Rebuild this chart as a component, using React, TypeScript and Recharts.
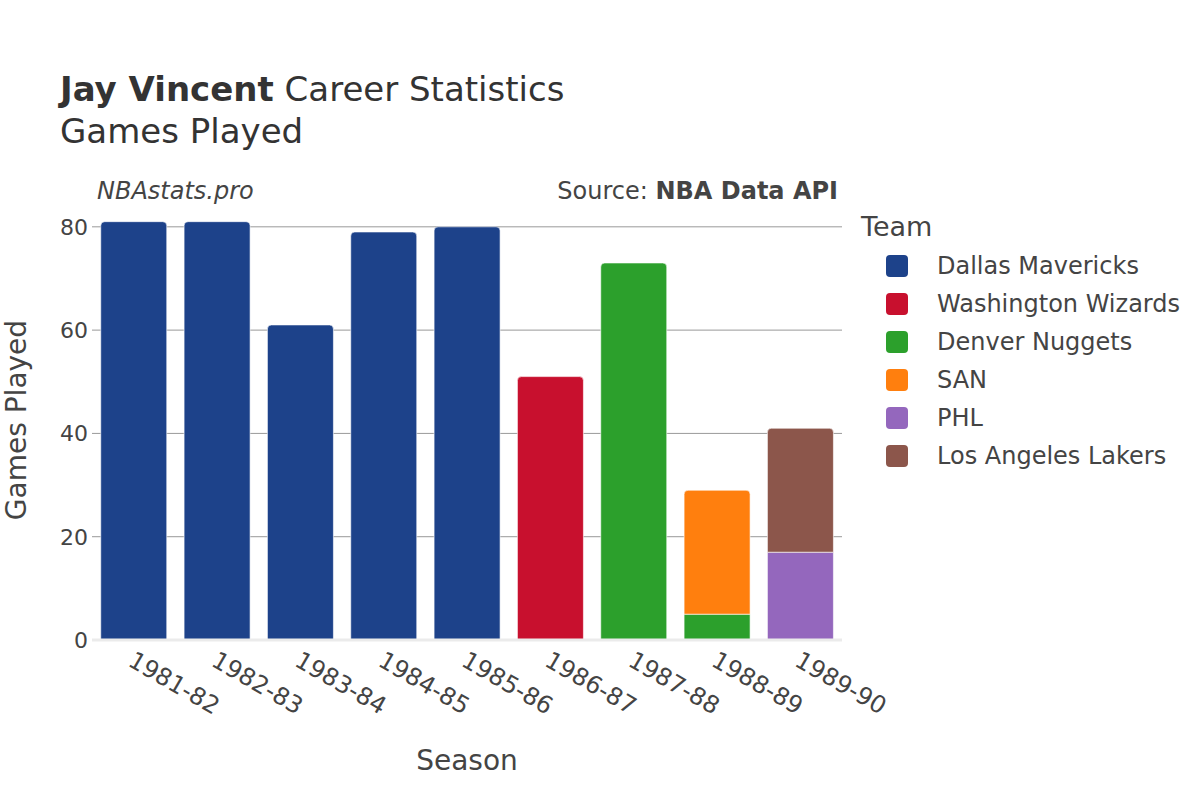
import { BarChart, Bar, XAxis, YAxis, CartesianGrid, ReferenceLine } from 'recharts';

// seasons on the x axis
const seasons = ["1981-82", "1982-83", "1983-84", "1984-85", "1985-86", "1986-87", "1987-88", "1988-89", "1989-90"];

// games played per team, one entry per season
const dallas = [81, 81, 61, 79, 80, 0, 0, 0, 0];
const washington = [0, 0, 0, 0, 0, 51, 0, 0, 0];
const denver = [0, 0, 0, 0, 0, 0, 73, 5, 0];
const san = [0, 0, 0, 0, 0, 0, 0, 24, 0];
const phl = [0, 0, 0, 0, 0, 0, 0, 0, 17];
const lakers = [0, 0, 0, 0, 0, 0, 0, 0, 24];

const teams = ["Dallas Mavericks", "Washington Wizards", "Denver Nuggets", "SAN", "PHL", "Los Angeles Lakers"];
const teamValues = [dallas, washington, denver, san, phl, lakers];
const teamColors = ["#1d428a", "#c8102e", "#2ca02c", "#ff7f0e", "#9467bd", "#8c564b"];

const yTicks = [0, 20, 40, 60, 80];

const rows = seasons.map((season, i) => {
  const row: Record<string, string | number> = { season };
  teams.forEach((t, k) => {
    row[t] = teamValues[k][i];
  });
  return row;
});

// index of the top segment of each stack (gets the rounded corners)
const topTeam = seasons.map((_, i) => {
  let top = -1;
  teamValues.forEach((vals, k) => {
    if (vals[i] > 0) top = k;
  });
  return top;
});

const FONT = '"DejaVu Sans", sans-serif';
const TEXT = "#444";

const makeShape = (k: number) => (props: any) => {
  const { x, y, width, height, index, fill } = props;
  if (!height || height <= 0) return <g />;
  const r = topTeam[index] === k ? Math.min(4, height) : 0;
  const d = `M${x},${y + height} L${x},${y + r} Q${x},${y} ${x + r},${y} L${x + width - r},${y} Q${x + width},${y} ${x + width},${y + r} L${x + width},${y + height} Z`;
  return <path d={d} fill={fill} stroke="#ffffff" strokeOpacity={0.6} strokeWidth={1} />;
};

const SeasonTick = (props: any) => {
  const { x, y, payload } = props;
  return (
    <text
      x={x - 7}
      y={y + 17}
      transform={`rotate(30, ${x - 7}, ${y + 17})`}
      textAnchor="start"
      fontSize={24}
      fontFamily={FONT}
      fill={TEXT}
    >
      {payload.value}
    </text>
  );
};

export default function App() {
  return (
    <div style={{ position: "absolute", left: 0, top: 0, width: 1200, height: 800, background: "#fff" }}>
      <BarChart
        width={1200}
        height={800}
        data={rows}
        margin={{ top: 201, right: 358, left: 32, bottom: 130 }}
        barCategoryGap="10.5%"
      >
        <CartesianGrid vertical={false} stroke="#999999" strokeWidth={1} syncWithTicks />
        <XAxis
          dataKey="season"
          height={30}
          tickLine={false}
          axisLine={false}
          interval={0}
          tick={<SeasonTick />}
        />
        <YAxis
          width={60}
          domain={[0, 85]}
          ticks={yTicks}
          tickLine={false}
          axisLine={false}
          tickSize={4}
          tickMargin={0}
          tick={{ fontSize: 22, fontFamily: FONT, fill: TEXT }}
        />
        <ReferenceLine y={0} stroke="#ebebeb" strokeWidth={3} />
        {teams.map((t, k) => (
          <Bar
            key={t}
            dataKey={t}
            stackId="gp"
            fill={teamColors[k]}
            isAnimationActive={false}
            shape={makeShape(k)}
          />
        ))}
      </BarChart>

      <svg
        width={1200}
        height={800}
        style={{ position: "absolute", left: 0, top: 0, pointerEvents: "none" }}
        fontFamily={FONT}
      >
        <text x={60} y={101} fontSize={34} fill="#333">
          <tspan fontWeight="bold">Jay Vincent</tspan>
          <tspan> Career Statistics</tspan>
        </text>
        <text x={60} y={143} fontSize={34} fill="#333">Games Played</text>
        <text x={97} y={199} fontSize={24} fontStyle="italic" fill={TEXT}>NBAstats.pro</text>
        <text x={838} y={199} fontSize={24} textAnchor="end" fill={TEXT}>
          <tspan>Source: </tspan>
          <tspan fontWeight="bold">NBA Data API</tspan>
        </text>
        <text
          x={0}
          y={0}
          transform="translate(26, 420) rotate(-90)"
          textAnchor="middle"
          fontSize={28}
          fill={TEXT}
        >
          Games Played
        </text>
        <text x={467} y={770} textAnchor="middle" fontSize={28} fill={TEXT}>Season</text>

        <text x={861} y={236} fontSize={27} fill={TEXT}>Team</text>
        {teams.map((t, k) => (
          <g key={t}>
            <rect x={886} y={255 + k * 38} width={22} height={22} rx={4} fill={teamColors[k]} />
            <text x={937} y={274 + k * 38} fontSize={24} fill={TEXT}>{t}</text>
          </g>
        ))}
      </svg>
    </div>
  );
}
